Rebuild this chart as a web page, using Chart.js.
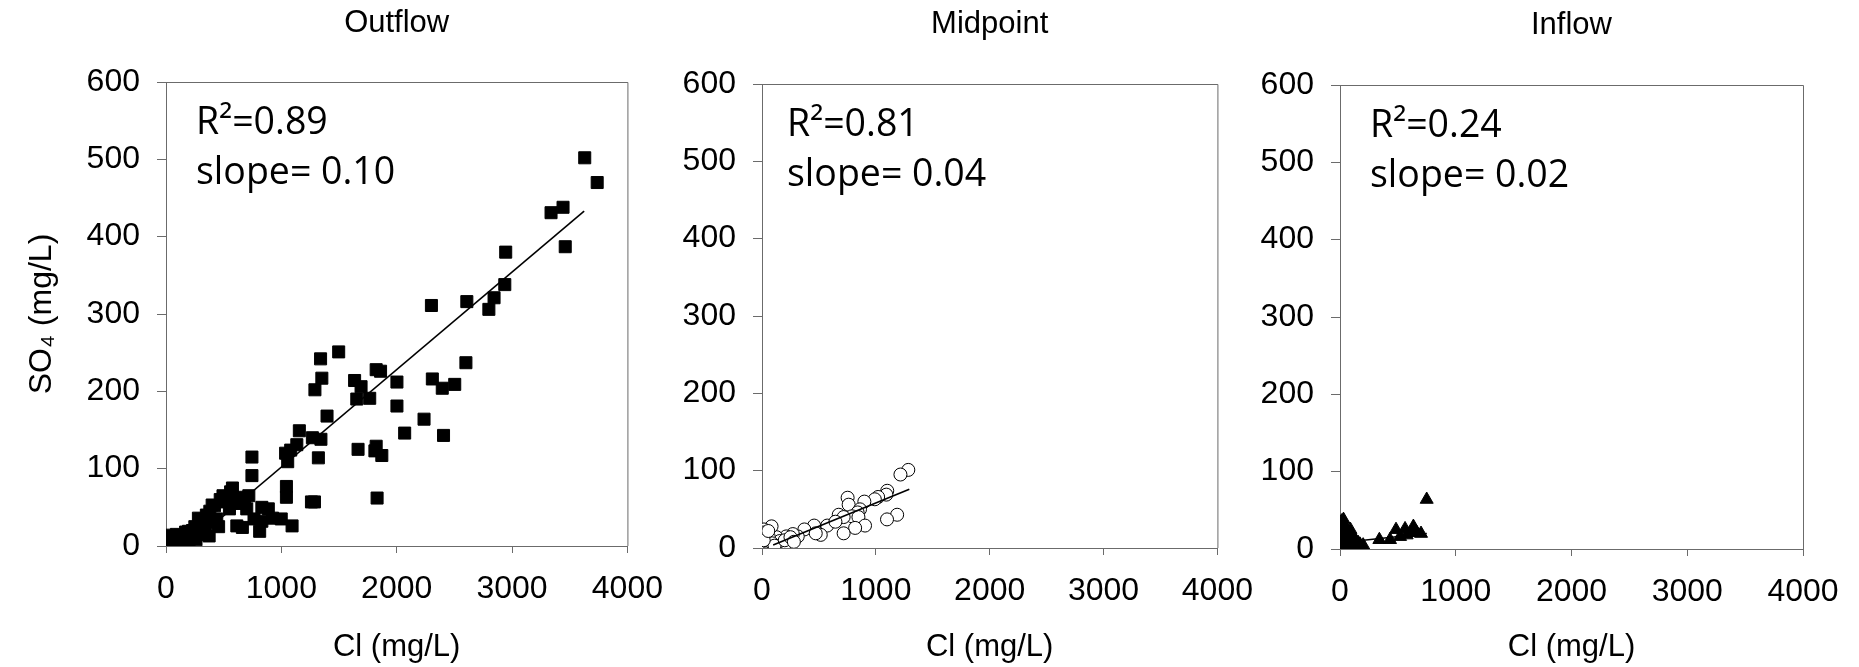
<!DOCTYPE html>
<html>
<head>
<meta charset="utf-8">
<script src="https://cdn.jsdelivr.net/npm/chart.js@4.4.1/dist/chart.umd.min.js"></script>
<style>
  body { margin: 0; background: #fff; }
  #wrap { position: relative; width: 1859px; height: 667px; overflow: hidden; }
  canvas { position: absolute; top: 0; }
</style>
</head>
<body>
<div id="wrap">
  <canvas id="chart_outflow" width="680" height="667" style="left:0px;width:680px;height:667px"></canvas>
  <canvas id="chart_midpoint" width="598" height="667" style="left:672px;width:598px;height:667px"></canvas>
  <canvas id="chart_inflow" width="609" height="667" style="left:1250px;width:609px;height:667px"></canvas>
</div>
<script>
// values (Cl and SO4, mg/L)
const outflowCl = [3630, 3738, 3338, 3442, 3461, 2945, 2937, 2844, 2799, 2608, 2301, 2600, 2309, 2395, 2503, 2237, 2406, 2002, 2002, 2069,
    1860, 1822, 1766, 1635, 1691, 1654, 1665, 1822, 1811, 1871, 1830, 1497, 1340, 1351, 1291, 1396, 1343, 1269, 1321, 1156,
    1134, 1081, 1037, 1055, 1261, 1287, 1044, 1044, 745, 745, 576, 494, 400, 614, 662, 718, 700, 812, 887, 924,
    999, 1093, 831, 763, 550, 456, 363, 318, 374, 288, 239, 176, 195, 101, 56, 26, 7, 0, 120, 56,
    281, 213, 513, 831, 617, 30, 80, 150, 260, 330, 380, 410, 420,
    20, 40, 60, 90, 110, 140, 170, 200, 230, 250, 300, 340, 350, 440, 470, 530, 560, 600, 640, 680];
const outflowSO4 = [502, 470, 431, 438, 387, 380, 338, 321, 306, 316, 311, 237, 216, 204, 209, 164, 143, 212, 181, 146,
    226, 228, 191, 214, 206, 190, 125, 129, 123, 117, 62, 251, 242, 217, 202, 168, 138, 140, 114, 149,
    131, 124, 120, 109, 57, 57, 77, 63, 115, 91, 75, 65, 53, 26, 24, 65, 48, 19, 48, 36,
    35, 26, 32, 35, 48, 25, 37, 29, 13, 24, 14, 10, 19, 8, 6, 10, 4, 14, 14, 1,
    36, 10, 57, 50, 63, 3, 12, 6, 8, 22, 45, 30, 52,
    8, 12, 5, 15, 10, 12, 18, 5, 20, 25, 35, 15, 40, 35, 60, 60, 70, 58, 55, 60];

const midpointCl = [1285, 1216, 1100, 1092, 1020, 991, 899, 752, 761, 861, 840, 790, 847, 674, 717, 905, 818, 717, 1187, 1098,
    573, 458, 516, 372, 314, 271, 213, 207, 127, 84, 69, 40, 12, 6, 26, 0, 17, 0, 156, 645, 472, 20, 35, 10, 50,
    30, 45, 60, 90, 110, 200, 250, 280, 15, 55];
const midpointSO4 = [101, 95, 74, 69, 66, 63, 60, 65, 56, 50, 46, 41, 40, 43, 40, 29, 26, 19, 43, 37,
    29, 29, 17, 24, 15, 18, 15, 6, 14, 28, 4, 11, 17, 7, 0, 3, 24, 0, 9, 34, 19, 12, 5, 20, 2,
    18, 8, 14, 6, 3, 10, 14, 8, 10, 22];

const inflowCl = [749, 634, 562, 484, 663, 576, 519, 432, 340, 14, 0, 29, 86, 115, 158, 0, 58, 14, 173, 0, 20, 40, 70, 100, 620, 700,
    10, 30, 50, 60, 80, 120, 140, 200, 25, 90];
const inflowSO4 = [64, 29, 26, 25, 21, 18, 16, 12, 12, 36, 27, 21, 21, 14, 8, 12, 10, 6, 6, 3, 30, 15, 12, 5, 22, 20,
    20, 38, 28, 18, 8, 15, 10, 5, 10, 25];

// fitted lines (end points)
const outflowFitCl = [190, 3625];
const outflowFitSO4 = [0, 433];
const midpointFitCl = [98, 1294];
const midpointFitSO4 = [4, 76];
const inflowFitCl = [0, 750];
const inflowFitSO4 = [8, 20];

const panelTitles = ['Outflow', 'Midpoint', 'Inflow'];
const rSquared = ['0.89', '0.81', '0.24'];
const slopes = ['0.10', '0.04', '0.02'];
const xTicks = [0, 1000, 2000, 3000, 4000];
const yTicks = [0, 100, 200, 300, 400, 500, 600];

const AXIS_GRAY = '#6b6b6b';
const FONT = '"Liberation Sans", Arial, sans-serif';

const toPoints = (xs, ys) => xs.map((x, i) => ({ x: x, y: ys[i] }));

// top + right edges of the box around the plot
const framePlugin = {
    id: 'frame',
    afterDraw(chart) {
        const { ctx, chartArea: a } = chart;
        ctx.save();
        ctx.strokeStyle = AXIS_GRAY;
        ctx.lineWidth = 1;
        ctx.beginPath();
        ctx.moveTo(a.left, a.top + 0.5);
        ctx.lineTo(a.right + 0.5, a.top + 0.5);
        ctx.lineTo(a.right + 0.5, a.bottom);
        ctx.stroke();
        ctx.restore();
    }
};

// R2 / slope text in the upper left corner
const statsPlugin = {
    id: 'stats',
    afterDatasetsDraw(chart, args, opts) {
        const { ctx, chartArea: a } = chart;
        ctx.save();
        ctx.fillStyle = '#000';
        ctx.font = '37.5px "Open Sans", sans-serif';
        ctx.textBaseline = 'alphabetic';
        ctx.textAlign = 'left';
        ctx.fillText('R\u00b2=' + opts.r2, a.left + opts.dx, a.top + 52);
        ctx.fillText('slope= ' + opts.slope, a.left + opts.dx, a.top + 102);
        ctx.restore();
    }
};

const makePanel = (id, idx, pts, fit, marker, box) => {
    const titleLh = 31 * 1.2;
    new Chart(document.getElementById(id), {
        type: 'scatter',
        data: {
            datasets: [
                {
                    data: fit,
                    showLine: true,
                    borderColor: '#000',
                    borderWidth: 1.6,
                    pointRadius: 0,
                },
                Object.assign({ data: pts, borderColor: '#000', borderWidth: 1 }, marker),
            ]
        },
        options: {
            responsive: false,
            animation: false,
            layout: { padding: { left: 0, right: box.padRight, top: 0, bottom: 0 } },
            plugins: {
                legend: { display: false },
                tooltip: { enabled: false },
                title: {
                    display: true,
                    text: panelTitles[idx],
                    fullSize: false,
                    color: '#000',
                    font: { family: FONT, size: 31, weight: 'normal' },
                    padding: { top: box.titleY - titleLh / 2, bottom: box.top - box.titleY - titleLh / 2 },
                },
                stats: { r2: rSquared[idx], slope: slopes[idx], dx: box.textDx },
            },
            scales: {
                x: {
                    type: 'linear',
                    min: 0,
                    max: 4000,
                    afterBuildTicks: (s) => { s.ticks = xTicks.map((v) => ({ value: v })); },
                    afterFit: (s) => { s.height = 667 - box.bottom; },
                    ticks: {
                        color: '#000',
                        padding: 17,
                        font: { family: FONT, size: 32 },
                        callback: (v) => String(v),
                        maxRotation: 0,
                    },
                    grid: { drawOnChartArea: false, drawTicks: true, tickLength: 7, color: AXIS_GRAY },
                    border: { color: AXIS_GRAY, width: 1 },
                    title: {
                        display: true,
                        text: 'Cl (mg/L)',
                        color: '#000',
                        font: { family: FONT, size: 31 },
                        padding: { top: 0, bottom: 1 },
                    },
                },
                y: {
                    type: 'linear',
                    min: 0,
                    max: 600,
                    afterBuildTicks: (s) => { s.ticks = yTicks.map((v) => ({ value: v })); },
                    afterFit: (s) => { s.width = box.yWidth; },
                    ticks: {
                        color: '#000',
                        padding: 17,
                        font: { family: FONT, size: 32 },
                        callback: (v) => String(v),
                    },
                    grid: { drawOnChartArea: false, drawTicks: true, tickLength: 9, color: AXIS_GRAY },
                    border: { color: AXIS_GRAY, width: 1 },
                    title: {
                        display: idx === 0,
                        text: 'SO\u2084 (mg/L)',
                        color: '#000',
                        font: { family: FONT, size: 32 },
                        padding: { top: 23, bottom: 0 },
                    },
                },
            },
        },
        plugins: [framePlugin, statsPlugin],
    });
};

makePanel('chart_outflow', 0,
    toPoints(outflowCl, outflowSO4),
    toPoints(outflowFitCl, outflowFitSO4),
    { pointStyle: 'rect', pointRadius: 8.5, backgroundColor: '#000' },
    { yWidth: 166, padRight: 51, top: 82, bottom: 546, titleY: 23, textDx: 30 });

makePanel('chart_midpoint', 1,
    toPoints(midpointCl, midpointSO4),
    toPoints(midpointFitCl, midpointFitSO4),
    { pointStyle: 'circle', pointRadius: 6.5, backgroundColor: '#fff' },
    { yWidth: 90, padRight: 45, top: 84, bottom: 548, titleY: 24, textDx: 25 });

makePanel('chart_inflow', 2,
    toPoints(inflowCl, inflowSO4),
    toPoints(inflowFitCl, inflowFitSO4),
    { pointStyle: 'triangle', pointRadius: 7.5, backgroundColor: '#000' },
    { yWidth: 90, padRight: 56, top: 85, bottom: 549, titleY: 25, textDx: 30 });
</script>
</body>
</html>
